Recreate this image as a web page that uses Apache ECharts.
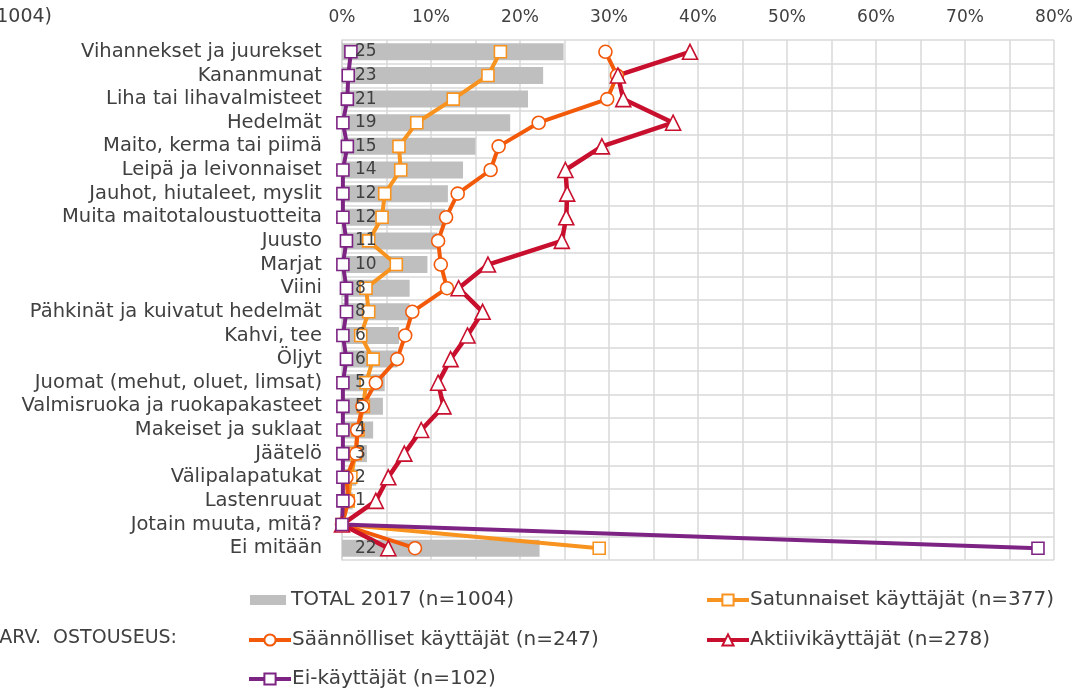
<!DOCTYPE html>
<html>
<head>
<meta charset="utf-8">
<script src="https://cdn.jsdelivr.net/npm/echarts@6/dist/echarts.min.js"></script>
<style>
  html, body { margin: 0; padding: 0; background: #fff; }
  #main { width: 1078px; height: 690px; }
</style>
</head>
<body>
<div id="main"></div>
<script>
// kategoriat (ylhäältä alas)
var categories = [
  'Vihannekset ja juurekset', 'Kananmunat', 'Liha tai lihavalmisteet', 'Hedelmät',
  'Maito, kerma tai piimä', 'Leipä ja leivonnaiset', 'Jauhot, hiutaleet, myslit',
  'Muita maitotaloustuotteita', 'Juusto', 'Marjat', 'Viini',
  'Pähkinät ja kuivatut hedelmät', 'Kahvi, tee', 'Öljyt', 'Juomat (mehut, oluet, limsat)',
  'Valmisruoka ja ruokapakasteet', 'Makeiset ja suklaat', 'Jäätelö', 'Välipalapatukat',
  'Lastenruuat', 'Jotain muuta, mitä?', 'Ei mitään'
];
var xTicks = [0, 10, 20, 30, 40, 50, 60, 70, 80];

// TOTAL 2017 (n=1004)
var total2017 = [24.9, 22.6, 20.9, 18.9, 15.0, 13.6, 11.9, 11.6, 10.7, 9.6, 7.6,
  7.6, 6.4, 6.2, 4.8, 4.6, 3.5, 2.8, 1.6, 1.2, 0, 22.2];
// Satunnaiset käyttäjät (n=377)
var satunnaiset = [17.8, 16.4, 12.5, 8.4, 6.4, 6.6, 4.8, 4.5, 3.0, 6.1, 2.7,
  3.0, 2.1, 3.5, 2.7, 2.4, 1.8, 1.5, 1.0, 0.7, 0, 28.9];
// Säännölliset käyttäjät (n=247)
var saannolliset = [29.6, 30.9, 29.8, 22.1, 17.6, 16.7, 13.0, 11.7, 10.8, 11.1, 11.8,
  7.9, 7.1, 6.2, 3.8, 2.3, 1.7, 1.6, 0.5, 0.7, 0, 8.2];
// Aktiivikäyttäjät (n=278)
var aktiivi = [39.1, 31.0, 31.6, 37.2, 29.2, 25.1, 25.3, 25.2, 24.7, 16.4, 13.1,
  15.8, 14.1, 12.2, 10.8, 11.4, 8.9, 7.0, 5.2, 3.8, 0, 5.2];
// Ei-käyttäjät (n=102)
var eiKayttajat = [1.0, 0.7, 0.6, 0.1, 0.6, 0.1, 0.1, 0.1, 0.5, 0.1, 0.5,
  0.5, 0.1, 0.5, 0.1, 0.1, 0.1, 0.1, 0.1, 0.1, 0, 78.2];

var font = 'DejaVu Sans';
var txt = '#404040';

var chart = echarts.init(document.getElementById('main'));

function lineSeries(name, data, color, symbol, size, width) {
  return {
    name: name,
    type: 'line',
    data: data,
    symbol: symbol,
    symbolSize: size,
    showAllSymbol: true,
    lineStyle: { color: color, width: width },
    itemStyle: { color: '#fff', borderColor: color, borderWidth: 1.6 },
    emphasis: { disabled: true },
    z: 3
  };
}

var legendBase = {
  orient: 'horizontal',
  itemWidth: 42,
  itemHeight: 14,
  itemGap: 0,
  lineStyle: { width: 4 },
  textStyle: { fontFamily: font, fontSize: 20, color: txt, padding: [0, 0, 0, -4] },
  padding: 0
};

var option = {
  backgroundColor: '#fff',
  animation: false,
  grid: { left: 342, right: 24, top: 40, bottom: 130, containLabel: false },
  xAxis: {
    type: 'value',
    position: 'top',
    min: 0,
    max: 80,
    interval: 5,
    axisLine: { show: false },
    axisTick: { show: false },
    axisLabel: {
      fontFamily: font, fontSize: 17, color: txt, margin: 14,
      formatter: function (v) { return xTicks.indexOf(v) >= 0 ? v + '%' : ''; }
    },
    splitLine: { show: true, lineStyle: { color: '#d9d9d9', width: 1.5 } }
  },
  yAxis: {
    type: 'category',
    inverse: true,
    data: categories,
    axisLine: { show: true, lineStyle: { color: '#d9d9d9', width: 1.5 } },
    axisTick: { show: false },
    axisLabel: { fontFamily: font, fontSize: 19.5, color: txt, margin: 20, interval: 0 },
    splitLine: { show: true, lineStyle: { color: '#d9d9d9', width: 1.5 } }
  },
  legend: [
    Object.assign({}, legendBase, { left: 250, top: 590, itemWidth: 36, itemHeight: 10,
      textStyle: Object.assign({}, legendBase.textStyle, { padding: [0, 0, 0, 0] }),
      data: [{ name: 'TOTAL 2017 (n=1004)', icon: 'rect' }] }),
    Object.assign({}, legendBase, { left: 705, top: 590, data: ['Satunnaiset käyttäjät (n=377)'] }),
    Object.assign({}, legendBase, { left: 247, top: 630, data: ['Säännölliset käyttäjät (n=247)'] }),
    Object.assign({}, legendBase, { left: 705, top: 630, data: ['Aktiivikäyttäjät (n=278)'] }),
    Object.assign({}, legendBase, { left: 247, top: 669, data: ['Ei-käyttäjät (n=102)'] })
  ],
  graphic: [
    { type: 'text', x: 52, y: 8, style: { text: '(n=1004)', textAlign: 'right', font: '19px "DejaVu Sans"', fill: txt } },
    { type: 'text', x: 177, y: 629, style: { text: 'ARV.  OSTOUSEUS:', textAlign: 'right', font: '19px "DejaVu Sans"', fill: txt } }
  ],
  series: [
    {
      name: 'TOTAL 2017 (n=1004)',
      type: 'bar',
      data: total2017,
      barWidth: 17,
      itemStyle: { color: '#bfbfbf' },
      emphasis: { disabled: true },
      z: 1
    },
    lineSeries('Satunnaiset käyttäjät (n=377)', satunnaiset, '#f7931e', 'rect', 12, 4),
    lineSeries('Säännölliset käyttäjät (n=247)', saannolliset, '#f25a0a', 'circle', 13, 4),
    lineSeries('Aktiivikäyttäjät (n=278)', aktiivi, '#c8102e', 'triangle', 15, 4.5),
    lineSeries('Ei-käyttäjät (n=102)', eiKayttajat, '#7d2384', 'rect', 12, 4),
    {
      // pylväiden arvot päällimmäisiksi
      name: 'labels',
      type: 'bar',
      data: total2017,
      barWidth: 17,
      barGap: '-100%',
      itemStyle: { color: 'rgba(0,0,0,0)' },
      label: {
        show: true,
        position: 'insideLeft',
        distance: 13,
        fontFamily: font,
        fontSize: 17,
        color: txt,
        formatter: function (p) { return p.value > 0 ? Math.round(p.value) : ''; }
      },
      emphasis: { disabled: true },
      silent: true,
      z: 10
    }
  ]
};

chart.setOption(option);
</script>
</body>
</html>
